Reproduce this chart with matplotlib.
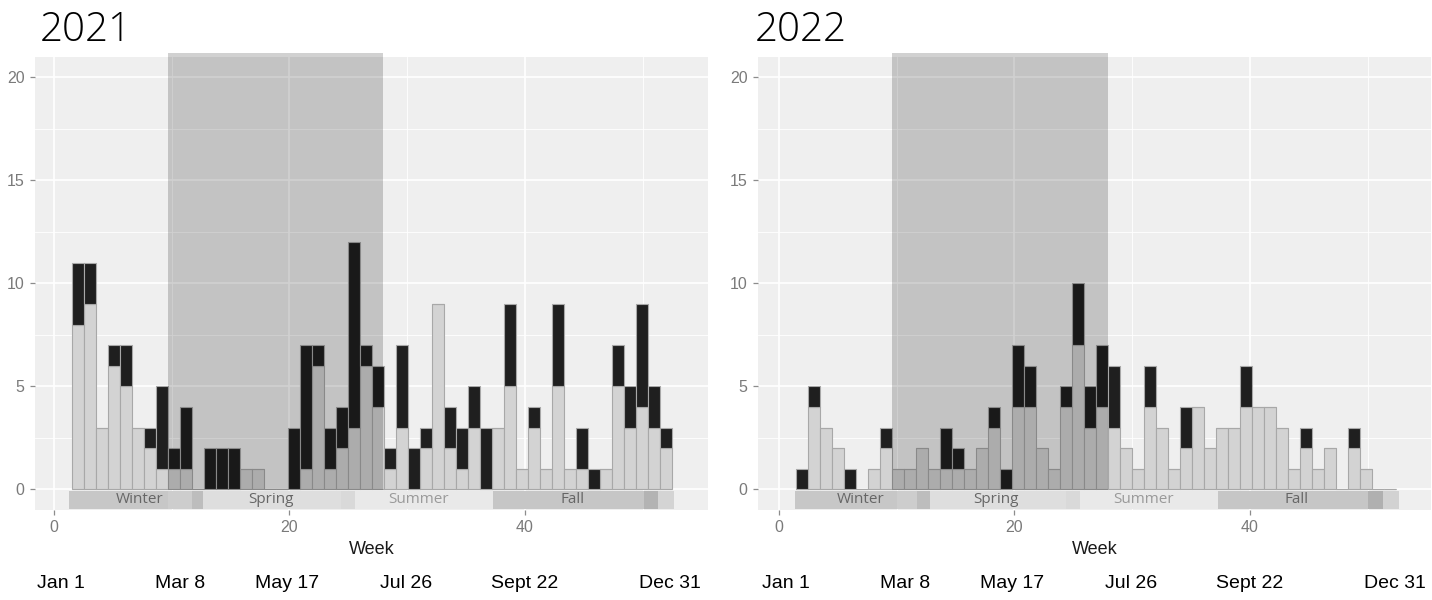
import matplotlib
matplotlib.use("Agg")
import matplotlib.pyplot as plt
import matplotlib.transforms as mtransforms
from matplotlib.patches import Rectangle
import numpy as np

# ---------------- data ----------------
weeks = np.arange(2, 52)

light_2021 = [8, 9, 3, 6, 5, 3, 2, 1, 1, 1, 0, 0, 0, 0, 1, 1, 0, 0, 0, 1,
              6, 1, 2, 3, 6, 4, 1, 3, 0, 2, 9, 2, 1, 3, 0, 3, 5, 1, 3, 1,
              5, 1, 1, 0, 1, 5, 3, 4, 3, 2]
dark_2021 = [3, 2, 0, 1, 2, 0, 1, 4, 1, 3, 0, 2, 2, 2, 0, 0, 0, 0, 3, 6,
             1, 2, 2, 9, 1, 2, 1, 4, 2, 1, 0, 2, 2, 2, 3, 0, 4, 0, 1, 0,
             4, 0, 2, 1, 0, 2, 2, 5, 2, 1]

light_2022 = [0, 4, 3, 2, 0, 0, 1, 2, 1, 1, 2, 1, 1, 1, 1, 2, 3, 0, 4, 4,
              2, 1, 4, 7, 3, 4, 3, 2, 1, 4, 3, 1, 2, 4, 2, 3, 3, 4, 4, 4,
              3, 1, 2, 1, 2, 0, 2, 1, 0, 0]
dark_2022 = [1, 1, 0, 0, 1, 0, 0, 1, 0, 0, 0, 0, 2, 1, 0, 0, 1, 1, 3, 2,
             0, 0, 1, 3, 2, 3, 3, 0, 0, 2, 0, 0, 2, 0, 0, 0, 0, 2, 0, 0,
             0, 0, 1, 0, 0, 0, 1, 0, 0, 0]

years = ["2021", "2022"]

# highlighted period (weeks)
highlight_2021 = (9.65, 27.95)
highlight_2022 = (9.60, 27.95)

# season strip: (start week, end week, grey level)
season_names = ["Winter", "Spring", "Summer", "Fall"]
season_label_weeks_2021 = [7.3, 18.4, 31.0, 44.1]
season_label_weeks_2022 = [6.9, 18.4, 31.0, 44.0]
season_strip_2021 = [(1.30, 9.70, "#C7C7C7"), (9.70, 11.70, "#CDCDCD"),
                     (11.70, 12.70, "#BDBDBD"), (12.70, 24.40, "#DEDEDE"),
                     (24.40, 25.60, "#D9D9D9"), (25.60, 37.30, "#E9E9E9"),
                     (37.30, 50.10, "#C6C6C6"), (50.10, 51.30, "#B3B3B3"),
                     (51.30, 52.70, "#D4D4D4")]
season_strip_2022 = [(1.36, 10.00, "#C7C7C7"), (10.00, 11.70, "#CDCDCD"),
                     (11.70, 12.80, "#BDBDBD"), (12.80, 24.40, "#DEDEDE"),
                     (24.40, 25.60, "#D9D9D9"), (25.60, 37.30, "#E9E9E9"),
                     (37.30, 50.00, "#C6C6C6"), (50.00, 51.30, "#B0B0B0"),
                     (51.30, 52.70, "#D2D2D2")]

date_labels = ["Jan 1", "Mar 8", "May 17", "Jul 26", "Sept 22", "Dec 31"]
date_weeks = [0.6, 10.7, 19.8, 29.9, 40.0, 52.3]

# ---------------- layout ----------------
W, H = 1432, 600
fig = plt.figure(figsize=(W / 100, H / 100), dpi=100)
fig.patch.set_facecolor("white")

PX_PER_WEEK = 11.77
BIN_WIDTH = 1.02


def make_axes(left, right, top, bottom, zero_px):
    ax = fig.add_axes([left / W, 1 - bottom / H, (right - left) / W, (bottom - top) / H])
    ax.set_xlim((left - zero_px) / PX_PER_WEEK, (right - zero_px) / PX_PER_WEEK)
    ax.set_ylim(-1, 21)
    return ax


panels = [
    dict(ax=make_axes(35, 708, 56.7, 510, 54), light=light_2021, dark=dark_2021,
         first_edge=1.50, hl=highlight_2021, strip=season_strip_2021,
         lab=season_label_weeks_2021, title=years[0], title_x=40),
    dict(ax=make_axes(758, 1431, 56.7, 510, 779), light=light_2022, dark=dark_2022,
         first_edge=1.44, hl=highlight_2022, strip=season_strip_2022,
         lab=season_label_weeks_2022, title=years[1], title_x=755),
]

NARROW = ["Liberation Sans Narrow", "Liberation Sans", "DejaVu Sans"]

for p in panels:
    ax = p["ax"]
    ax.set_facecolor("#EFEFEF")
    for s in ax.spines.values():
        s.set_visible(False)

    # grid
    ax.set_xticks([0, 20, 40])
    ax.set_xticks([10, 30, 50], minor=True)
    ax.set_yticks([0, 5, 10, 15, 20])
    ax.set_yticks([2.5, 7.5, 12.5, 17.5], minor=True)
    ax.grid(True, which="major", color="white", lw=1.2, zorder=0)
    ax.grid(True, which="minor", color="white", lw=0.6, zorder=0)
    ax.set_axisbelow(True)
    ax.tick_params(which="major", length=3.5, width=0.9, color="#8C8C8C",
                   labelcolor="#7A7A7A", pad=4, labelsize=11.5,
                   labelfontfamily="Liberation Sans")
    ax.tick_params(which="minor", length=0)

    # stacked weekly bars
    edges = p["first_edge"] + (weeks - weeks[0]) * BIN_WIDTH
    light = np.array(p["light"])
    dark = np.array(p["dark"])
    ax.bar(edges, light, width=BIN_WIDTH, align="edge", color="#D3D3D3",
           edgecolor="#A8A8A8", lw=0.8, zorder=2)
    ax.bar(edges, dark, bottom=light, width=BIN_WIDTH, align="edge",
           color="#1F1F1F", edgecolor="#A8A8A8", lw=0.8, zorder=2)

    # highlighted period overlay
    h0, h1 = p["hl"]
    ax.add_patch(Rectangle((h0, -0.03), h1 - h0, 21.2, facecolor="black",
                           alpha=0.18, lw=0, zorder=3, clip_on=False))

    # season strip under the bars
    for s0, s1, c in p["strip"]:
        ax.add_patch(Rectangle((s0, -0.94), s1 - s0, 0.86, facecolor=c,
                               lw=0, zorder=2))
    for name, xw in zip(season_names, p["lab"]):
        ax.text(xw, -0.50, name, ha="center", va="center", fontsize=11,
                family=["Open Sans", "DejaVu Sans"],
                color="#9A9A9A" if name == "Summer" else "#666666", zorder=4)

    ax.set_xlabel("Week", fontsize=13, color="#1A1A1A", labelpad=4,
                  family=NARROW)

    # calendar reference dates
    trans = mtransforms.blended_transform_factory(ax.transData, fig.transFigure)
    for lab, xw in zip(date_labels, date_weeks):
        ax.text(xw, 1 - 584 / H, lab, transform=trans, ha="center", va="center",
                fontsize=14, family=NARROW, color="black", clip_on=False)

    fig.text(p["title_x"] / W, 1 - 41 / H, p["title"], fontsize=29,
             family=["Open Sans", "DejaVu Sans"], fontweight="light",
             ha="left", va="baseline", color="black")

fig.savefig("out.png", dpi=100, facecolor="white")
